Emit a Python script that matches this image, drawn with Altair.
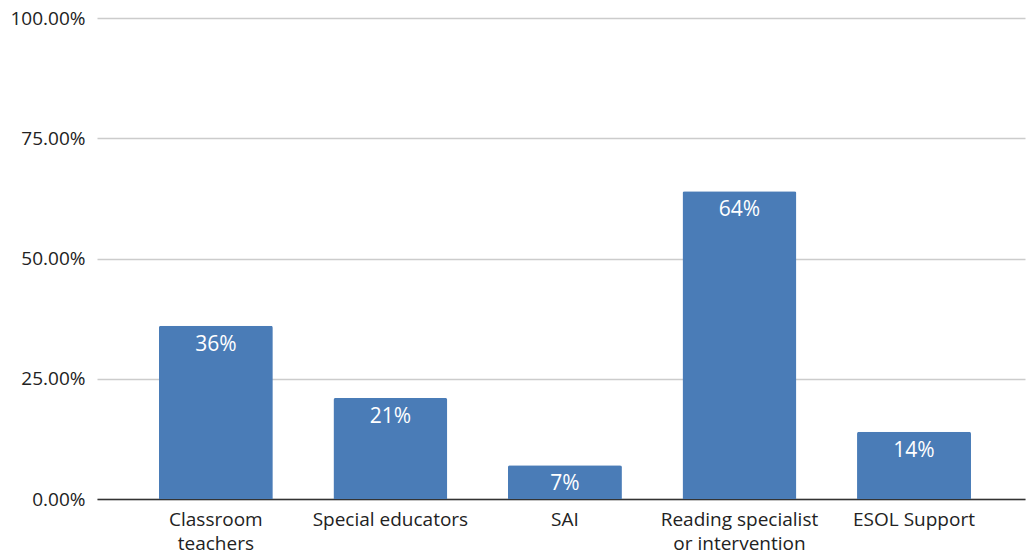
import altair as alt
import pandas as pd

# Share of respondents by role
roles = ["Classroom teachers", "Special educators", "SAI",
         "Reading specialist or intervention", "ESOL Support"]
role_lines = [["Classroom", "teachers"], ["Special educators"], ["SAI"],
              ["Reading specialist", "or intervention"], ["ESOL Support"]]
shares = [36, 21, 7, 64, 14]
value_labels = ["36%", "21%", "7%", "64%", "14%"]
y_ticks = [0, 25, 50, 75, 100]

df = pd.DataFrame({"role": roles, "share": shares, "label": value_labels})

# Axis label expression that breaks long role names onto two lines
label_expr = ""
for name, lines in zip(roles, role_lines):
    arr = "[" + ",".join("'" + s + "'" for s in lines) + "]"
    label_expr += f"datum.label == '{name}' ? {arr} : "
label_expr += "datum.label"

FONT = "Open Sans"
BAR = "#4a7cb7"

x = alt.X("role:N", sort=roles, title=None,
          scale=alt.Scale(paddingInner=0.347, paddingOuter=0.332, align=0.534),
          axis=alt.Axis(labelAngle=0, labelExpr=label_expr, labelFont=FONT,
                        labelFontSize=19, labelColor="#222222", labelPadding=11,
                        labelLineHeight=24, ticks=False, domainColor="#333333",
                        domainWidth=1.5))
y = alt.Y("share:Q", title=None,
          scale=alt.Scale(domain=[0, 100], nice=False),
          axis=alt.Axis(values=y_ticks, labelExpr="format(datum.value, '.2f') + '%'",
                        labelFont=FONT, labelFontSize=19, labelColor="#222222",
                        labelPadding=12, ticks=False, domain=False,
                        gridColor="#cccccc", gridWidth=1.5))

bars = alt.Chart(df).mark_bar(color=BAR, cornerRadiusTopLeft=2,
                              cornerRadiusTopRight=2).encode(x=x, y=y)

text = alt.Chart(df).mark_text(font=FONT, fontSize=21, color="white",
                               baseline="top", dy=8).encode(
    x=alt.X("role:N", sort=roles), y="share:Q", text="label:N")

chart = (bars + text).properties(
    width=928, height=481,
    autosize=alt.AutoSizeParams(type="none"),
    padding={"left": 97, "top": 18, "right": 1, "bottom": 55},
    background="white",
).configure_view(stroke=None)

chart.save("out.html", embed_options={"renderer": "svg", "actions": False})
